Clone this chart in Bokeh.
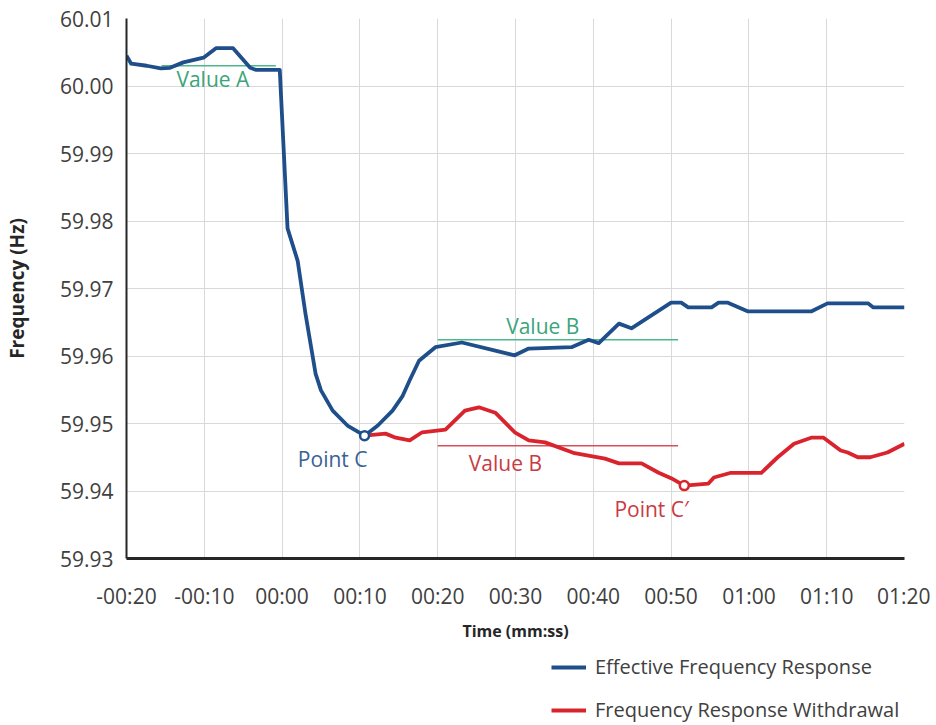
from bokeh.plotting import figure
from bokeh.layouts import column
from bokeh.models import Range1d, FixedTicker, PrintfTickFormatter, Legend, LegendItem
from bokeh.core.properties import value
from bokeh.embed import file_html
from bokeh.resources import INLINE

# ---- data (time in seconds, frequency in Hz) ----
effective_t = [-20.0, -19.4, -17.4, -15.6, -14.4, -12.7, -10.1, -8.5, -6.3, -4.1, -3.4, -0.3,
               0.7, 2.0, 3.0, 4.3, 5.0, 6.5, 8.4, 10.6, 12.3, 14.2, 15.5, 16.4, 17.6, 19.7,
               23.1, 27.4, 29.9, 31.7, 37.2, 39.4, 40.7, 43.3, 44.9, 50.0, 51.3, 52.2, 55.2,
               56.1, 57.3, 59.9, 68.0, 70.1, 75.3, 76.0, 80.0]
effective_f = [60.0045, 60.0033, 60.0030, 60.0026, 60.0027, 60.0035, 60.0042, 60.0056, 60.0056,
               60.0027, 60.0024, 60.0024, 59.9789, 59.9741, 59.9663, 59.9574, 59.9549, 59.9519,
               59.9497, 59.9482, 59.9497, 59.9519, 59.9541, 59.9564, 59.9593, 59.9613, 59.9620,
               59.9608, 59.9601, 59.9611, 59.9613, 59.9624, 59.9619, 59.9648, 59.9641, 59.9679,
               59.9679, 59.9672, 59.9672, 59.9679, 59.9679, 59.9666, 59.9666, 59.9678, 59.9678,
               59.9672, 59.9672]

withdrawal_t = [10.6, 13.3, 14.6, 16.4, 18.0, 21.0, 23.5, 25.3, 27.4, 29.9, 31.7, 33.8, 37.6,
                41.5, 43.3, 46.2, 48.4, 50.0, 51.7, 54.8, 55.5, 57.7, 61.6, 63.7, 65.8, 68.0,
                69.6, 71.8, 72.7, 74.0, 75.6, 77.8, 80.0]
withdrawal_f = [59.9482, 59.9485, 59.9479, 59.9475, 59.9487, 59.9491, 59.9519, 59.9524, 59.9516,
                59.9487, 59.9475, 59.9472, 59.9456, 59.9448, 59.9441, 59.9441, 59.9427, 59.9419,
                59.9408, 59.9411, 59.9420, 59.9427, 59.9427, 59.9450, 59.9470, 59.9479, 59.9479,
                59.9460, 59.9457, 59.9450, 59.9450, 59.9457, 59.9470]

value_a_t = [-15.5, -0.8]
value_a_f = [60.0030, 60.0030]
value_b_eff_t = [20.0, 50.9]
value_b_eff_f = [59.9624, 59.9624]
value_b_wd_t = [20.0, 50.9]
value_b_wd_f = [59.9467, 59.9467]

point_c_t = [10.6]
point_c_f = [59.9482]
point_c2_t = [51.7]
point_c2_f = [59.9408]

x_ticks = [-20, -10, 0, 10, 20, 30, 40, 50, 60, 70, 80]
x_tick_labels = ["-00:20", "-00:10", "00:00", "00:10", "00:20", "00:30", "00:40",
                 "00:50", "01:00", "01:10", "01:20"]
y_ticks = [59.93, 59.94, 59.95, 59.96, 59.97, 59.98, 59.99, 60.00, 60.01]
series_names = ["Effective Frequency Response", "Frequency Response Withdrawal"]

BLUE = "#1f4f8a"
RED = "#d9242e"
GREEN = "#3aa57a"
GREEN_LINE = "#4db88c"
RED_TEXT = "#c83a44"
BLUE_TEXT = "#3a6196"
TXT = "#404040"
FONT = "Open Sans"

p = figure(width=930, height=650, x_range=Range1d(-20, 80), y_range=Range1d(59.93, 60.01),
           output_backend="svg", toolbar_location=None,
           min_border_left=123, min_border_right=26, min_border_top=18, min_border_bottom=92)
p.outline_line_color = None
p.background_fill_color = "white"
p.border_fill_color = "white"

p.xaxis.ticker = FixedTicker(ticks=x_ticks)
p.xaxis.major_label_overrides = {t: l for t, l in zip(x_ticks, x_tick_labels)}
p.yaxis.ticker = FixedTicker(ticks=y_ticks)
p.yaxis.formatter = PrintfTickFormatter(format="%.2f")
p.xgrid.ticker = FixedTicker(ticks=x_ticks)
p.ygrid.ticker = FixedTicker(ticks=y_ticks)
p.grid.grid_line_color = "#d9d9d9"
p.grid.grid_line_width = 1

for ax in (p.xaxis[0], p.yaxis[0]):
    ax.major_tick_out = 0
    ax.major_tick_in = 0
    ax.minor_tick_out = 0
    ax.minor_tick_in = 0
    ax.major_label_text_font = FONT
    ax.major_label_text_font_size = "21px"
    ax.major_label_text_color = TXT
    ax.axis_label_text_font = FONT
    ax.axis_label_text_font_style = "bold"
    ax.axis_label_text_color = "#262626"
    ax.axis_line_color = "#262626"

p.yaxis.axis_line_width = 2
p.xaxis.axis_line_width = 3
p.yaxis.major_label_standoff = 13
p.xaxis.major_label_standoff = 23
p.yaxis.axis_label = "Frequency (Hz)"
p.xaxis.axis_label = "Time (mm:ss)"
p.yaxis.axis_label_text_font_size = "19px"
p.xaxis.axis_label_text_font_size = "16px"
p.yaxis.axis_label_standoff = 27
p.xaxis.axis_label_standoff = 7

# reference lines
p.line(value_a_t, value_a_f, line_color=GREEN_LINE, line_width=1.5)
p.line(value_b_eff_t, value_b_eff_f, line_color=GREEN_LINE, line_width=1.5)
p.line(value_b_wd_t, value_b_wd_f, line_color="#d8505a", line_width=1.5)

# main series
p.line(withdrawal_t, withdrawal_f, line_color=RED, line_width=3.8, line_join="round")
p.line(effective_t, effective_f, line_color=BLUE, line_width=3.8, line_join="round")

p.scatter(point_c_t, point_c_f, marker="circle", size=9, fill_color="white",
          line_color=BLUE, line_width=2.5)
p.scatter(point_c2_t, point_c2_f, marker="circle", size=9, fill_color="white",
          line_color=RED, line_width=2.5)

# annotation texts
def label(x, y, txt, color):
    p.text([x], [y], text=[txt], text_color=color, text_font=value(FONT),
           text_font_size="21px", text_align="center", text_baseline="middle")

label(-8.9, 60.0010, "Value A", GREEN)
label(33.5, 59.9645, "Value B", GREEN)
label(28.7, 59.9441, "Value B", RED_TEXT)
label(6.5, 59.9448, "Point C", BLUE_TEXT)
label(47.5, 59.9374, "Point C\u2032", RED_TEXT)

# legend strip below the chart
lg = figure(width=930, height=73, x_range=Range1d(0, 1), y_range=Range1d(0, 1),
            output_backend="svg", toolbar_location=None,
            min_border_left=0, min_border_right=0, min_border_top=0, min_border_bottom=0)
lg.outline_line_color = None
lg.axis.visible = False
lg.grid.visible = False
lg_eff = lg.line([-2, -1], [-2, -2], line_color=BLUE, line_width=4)
lg_wd = lg.line([-2, -1], [-2, -2], line_color=RED, line_width=4)
legend = Legend(items=[LegendItem(label=series_names[0], renderers=[lg_eff]),
                       LegendItem(label=series_names[1], renderers=[lg_wd])],
                location=(425, 0), orientation="vertical",
                border_line_color=None, background_fill_alpha=0,
                padding=0, margin=0, spacing=16,
                glyph_width=35, glyph_height=20, label_height=20, label_standoff=9,
                label_text_font=FONT, label_text_font_size="20px", label_text_color=TXT)
lg.add_layout(legend, "center")

open("out.html", "w").write(file_html(column(p, lg, spacing=0), INLINE))
